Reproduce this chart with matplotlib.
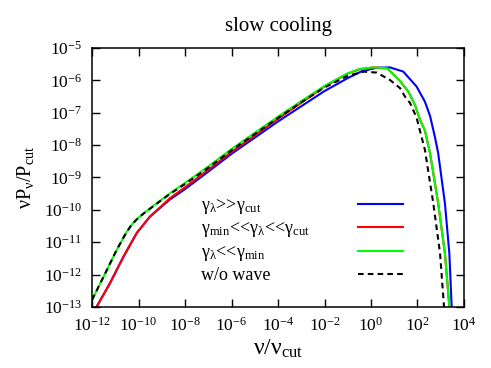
import numpy as np
import matplotlib.pyplot as plt

plt.rcParams['font.family'] = ['Liberation Serif', 'DejaVu Serif']
plt.rcParams['mathtext.fontset'] = 'custom'
plt.rcParams['mathtext.rm'] = 'Liberation Serif'
plt.rcParams['mathtext.it'] = 'Liberation Serif:italic'
plt.rcParams['mathtext.default'] = 'rm'

# values, as log10(nu/nu_cut) and log10(nu P_nu / P_cut)
logx_large = [-11.88, -11.80, -11.23, -10.65, -10.08, -9.51, -8.65, -8.0, -7.0, -6.0, -5.0,
              -4.0, -3.0, -2.0, -1.0, -0.4, 0.25, 0.82, 1.39, 1.96, 2.32, 2.54, 2.75, 2.89,
              3.18, 3.37, 3.47, 3.49]
logy_large = [-13.1, -12.99, -12.27, -11.45, -10.72, -10.21, -9.68, -9.36, -8.82, -8.27, -7.77,
              -7.27, -6.80, -6.33, -5.93, -5.72, -5.61, -5.60, -5.73, -6.19, -6.66, -7.10, -7.75,
              -8.25, -9.80, -11.34, -12.99, -13.3]

logx_mid = [-11.88, -11.80, -11.23, -10.65, -10.08, -9.51, -8.65, -8.0, -7.0, -6.0, -5.0,
            -4.0, -3.0, -2.0, -1.0, -0.5, 0.1, 0.7, 1.25, 1.61, 1.89, 2.11, 2.32, 2.54, 2.89,
            3.18, 3.37, 3.40]
logy_mid = [-13.1, -12.99, -12.27, -11.45, -10.72, -10.21, -9.64, -9.30, -8.76, -8.21, -7.70,
            -7.19, -6.69, -6.19, -5.79, -5.66, -5.60, -5.63, -6.02, -6.35, -6.76, -7.22, -7.55,
            -8.25, -9.80, -11.34, -12.99, -13.2]

logx_small = [-12.0, -11.5, -10.94, -10.55, -10.30, -10.08, -9.79, -9.22, -8.65, -8.0, -7.0,
              -6.0, -5.0, -4.0, -3.0, -2.0, -1.0, -0.5, 0.1, 0.7, 1.25, 1.61, 1.89, 2.11, 2.32,
              2.54, 2.89, 3.18, 3.37, 3.40]
logy_small = [-12.78, -12.06, -11.24, -10.73, -10.46, -10.29, -10.11, -9.80, -9.49, -9.17, -8.66,
              -8.12, -7.62, -7.12, -6.64, -6.17, -5.78, -5.65, -5.60, -5.63, -6.02, -6.35, -6.76,
              -7.22, -7.55, -8.25, -9.80, -11.34, -12.99, -13.2]

logx_nowave = [-12.0, -11.5, -10.94, -10.55, -10.30, -10.08, -9.79, -9.22, -8.65, -8.0, -7.0,
               -6.0, -5.0, -4.0, -3.0, -2.0, -1.0, -0.3, 0.25, 0.82, 1.25, 1.46, 1.68, 1.96,
               2.32, 2.68, 2.97, 3.14, 3.17]
logy_nowave = [-12.78, -12.06, -11.24, -10.73, -10.46, -10.30, -10.12, -9.81, -9.51, -9.20, -8.70,
               -8.16, -7.66, -7.16, -6.68, -6.22, -5.86, -5.73, -5.76, -5.99, -6.24, -6.50, -6.70,
               -7.15, -8.15, -9.80, -11.34, -12.99, -13.3]

labels = ['γ$_{λ}$>>γ$_{cut}$',
          'γ$_{min}$<<γ$_{λ}$<<γ$_{cut}$',
          'γ$_{λ}$<<γ$_{min}$',
          'w/o wave']
colors = ['#0000ff', '#ff0000', '#00ff00', 'black']

x_exps = [-12, -10, -8, -6, -4, -2, 0, 2, 4]
y_exps = [-13, -12, -11, -10, -9, -8, -7, -6, -5]

fig = plt.figure(figsize=(4.91, 3.68), dpi=100)
ax = fig.add_axes([0.1874, 0.1658, 0.7576, 0.7038])

series = [(logx_large, logy_large), (logx_mid, logy_mid),
          (logx_small, logy_small), (logx_nowave, logy_nowave)]
handles = []
for (lx, ly), c in zip(series, colors):
    ls = (0, (2.7, 2)) if c == 'black' else '-'
    h, = ax.plot(10.0 ** np.array(lx), 10.0 ** np.array(ly), color=c, lw=1.5, ls=ls)
    handles.append(h)

ax.set_xscale('log')
ax.set_yscale('log')
ax.set_xlim(1e-12, 1e4)
ax.set_ylim(1e-13, 1e-5)
ax.set_xticks([10.0 ** e for e in x_exps])
ax.set_xticklabels(['10$^{%d}$' % e for e in x_exps])
ax.set_yticks([10.0 ** e for e in y_exps])
ax.set_yticklabels(['10$^{%d}$' % e for e in y_exps])
ax.minorticks_off()
ax.tick_params(direction='in', top=True, right=True, length=6, width=1,
               labelsize=12.5, pad=7)
for s in ax.spines.values():
    s.set_linewidth(1.1)

ax.set_title('slow cooling', fontsize=15, pad=12)
ax.set_xlabel('ν/ν$_{cut}$', fontsize=17, labelpad=2)
ax.set_ylabel('νP$_{ν}$/P$_{cut}$', fontsize=14.5, labelpad=6)

# gnuplot-style key: texts left-aligned, line samples in their own column on the right
leg_kw = dict(frameon=False, fontsize=13, labelspacing=0.25, borderaxespad=0, borderpad=0)
text_leg = ax.legend(handles, labels, loc='upper left', bbox_to_anchor=(0.293, 0.425),
                     handlelength=0, handletextpad=0, **leg_kw)
for h in text_leg.legend_handles:
    h.set_visible(False)
ax.add_artist(text_leg)
line_leg = ax.legend(handles, labels, loc='upper right', bbox_to_anchor=(0.836, 0.425),
                     markerfirst=False, handlelength=2.5, handletextpad=0, **leg_kw)
for t in line_leg.get_texts():
    t.set_visible(False)

fig.savefig('out.png', dpi=100)
